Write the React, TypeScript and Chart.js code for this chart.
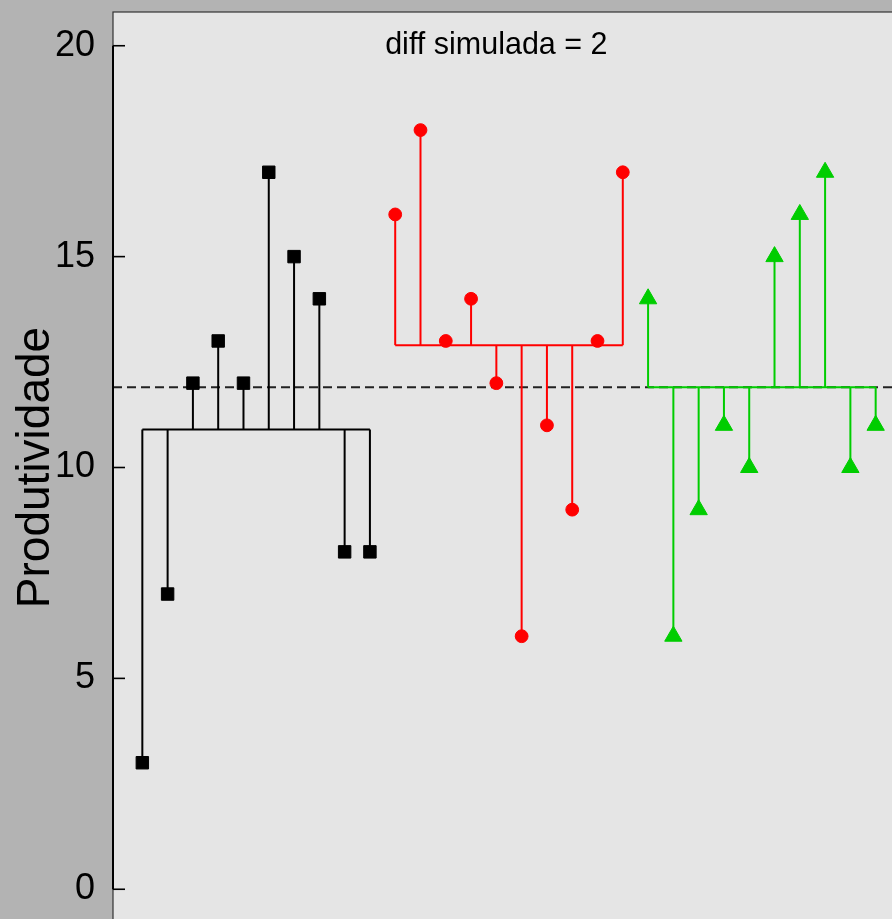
import React, { useEffect, useRef } from "react";
import { Chart, registerables } from "chart.js";
Chart.register(...registerables);

// Values
const groupA = [3, 7, 12, 13, 12, 17, 15, 14, 8, 8];
const groupB = [16, 18, 13, 14, 12, 6, 11, 9, 13, 17];
const groupC = [14, 6, 9, 11, 10, 15, 16, 17, 10, 11];
const groupColors = ["#000000", "#ff0000", "#00cd00"];
const groupStyles = ["rect", "circle", "triangle"];
const yTicks = [0, 5, 10, 15, 20];
const titleText = "diff simulada = 2";
const titleAt = { x: 15, y: 20 };
const yLabel = "Produtividade";
const xRange = [-0.16, 31.16];
const yRange = [-0.8, 20.8];

const FONT = "'Liberation Sans', Arial, Helvetica, sans-serif";

const mean = (a: number[]) => a.reduce((s, v) => s + v, 0) / a.length;

function buildDatasets() {
  const groups = [groupA, groupB, groupC];
  const all = ([] as number[]).concat(...groups);
  const grand = mean(all);
  const pointSets: any[] = [];
  const lineSets: any[] = [];
  let idx = 1;
  groups.forEach((vals, g) => {
    const m = mean(vals);
    const color = groupColors[g];
    const style = groupStyles[g];
    const radius = style === "rect" ? 8.8 : style === "circle" ? 6.4 : 10;
    const pts = vals.map((v, i) => ({ x: idx + i, y: v }));
    pointSets.push({
      type: "scatter",
      data: pts,
      pointStyle: style,
      pointRadius: radius,
      pointBackgroundColor: color,
      pointBorderColor: color,
      pointBorderWidth: 1,
      showLine: false,
    });
    pts.forEach((p) => {
      lineSets.push({
        type: "scatter",
        data: [{ x: p.x, y: m }, { x: p.x, y: p.y }],
        showLine: true,
        borderColor: color,
        borderWidth: 2,
        pointRadius: 0,
      });
    });
    lineSets.push({
      type: "scatter",
      data: [{ x: pts[0].x, y: m }, { x: pts[pts.length - 1].x, y: m }],
      showLine: true,
      borderColor: color,
      borderWidth: 2,
      pointRadius: 0,
    });
    idx += vals.length;
  });
  const dashed = {
    type: "scatter",
    data: [{ x: xRange[0], y: grand }, { x: xRange[1], y: grand }],
    showLine: true,
    borderColor: "#222222",
    borderWidth: 2,
    borderDash: [9, 5],
    pointRadius: 0,
  };
  return [...pointSets, ...lineSets, dashed];
}

const decor = {
  id: "decor",
  beforeDraw(chart: any) {
    const { ctx, chartArea: a, width, height } = chart;
    ctx.save();
    ctx.fillStyle = "#b3b3b3";
    ctx.fillRect(0, 0, width, height);
    ctx.fillStyle = "#e5e5e5";
    ctx.fillRect(a.left, a.top, a.right - a.left, a.bottom - a.top);
    ctx.restore();
  },
  afterDraw(chart: any) {
    const { ctx, chartArea: a, scales } = chart;
    const ys = scales.y;
    const xs = scales.x;
    ctx.save();
    ctx.strokeStyle = "#333333";
    ctx.lineWidth = 1.2;
    ctx.strokeRect(a.left, a.top, a.right - a.left, a.bottom - a.top);
    ctx.strokeStyle = "#000000";
    ctx.lineWidth = 2;
    ctx.beginPath();
    ctx.moveTo(a.left, ys.getPixelForValue(yTicks[yTicks.length - 1]));
    ctx.lineTo(a.left, ys.getPixelForValue(yTicks[0]));
    ctx.stroke();
    ctx.lineWidth = 1.6;
    yTicks.forEach((t) => {
      const y = ys.getPixelForValue(t);
      ctx.beginPath();
      ctx.moveTo(a.left, y);
      ctx.lineTo(a.left + 12, y);
      ctx.stroke();
    });
    ctx.fillStyle = "#000000";
    ctx.font = `30.5px ${FONT}`;
    ctx.textAlign = "center";
    ctx.textBaseline = "middle";
    ctx.fillText(titleText, xs.getPixelForValue(titleAt.x), ys.getPixelForValue(titleAt.y));
    ctx.restore();
  },
};

export default function App() {
  const ref = useRef<HTMLCanvasElement | null>(null);
  useEffect(() => {
    document.documentElement.style.overflow = "hidden";
    document.body.style.overflow = "hidden";
    document.body.style.margin = "0";
    const canvas = ref.current!;
    const chart = new Chart(canvas, {
      type: "scatter",
      data: { datasets: buildDatasets() as any },
      options: {
        animation: false,
        responsive: false,
        devicePixelRatio: 1,
        layout: { padding: { left: 0, top: 12, right: 15, bottom: 22 } },
        plugins: { legend: { display: false }, tooltip: { enabled: false } },
        scales: {
          x: {
            type: "linear",
            min: xRange[0],
            max: xRange[1],
            display: false,
          },
          y: {
            type: "linear",
            min: yRange[0],
            max: yRange[1],
            afterBuildTicks: (s: any) => {
              s.ticks = yTicks.map((v) => ({ value: v }));
            },
            afterFit: (s: any) => {
              s.width = 113;
              s.paddingTop = 0;
              s.paddingBottom = 0;
            },
            grid: { display: false, drawTicks: false },
            border: { display: false },
            ticks: {
              padding: 18,
              color: "#000000",
              font: { family: FONT, size: 36 },
            },
            title: {
              display: true,
              text: yLabel,
              color: "#000000",
              font: { family: FONT, size: 46, lineHeight: 1.2 },
              padding: { top: 8.5, bottom: 0 },
            },
          },
        },
      } as any,
      plugins: [decor],
    });
    return () => chart.destroy();
  }, []);
  return (
    <div style={{ position: "fixed", left: 0, top: 0, width: 920, height: 945 }}>
      <canvas ref={ref} width={920} height={945} style={{ width: 920, height: 945, display: "block" }} />
    </div>
  );
}
